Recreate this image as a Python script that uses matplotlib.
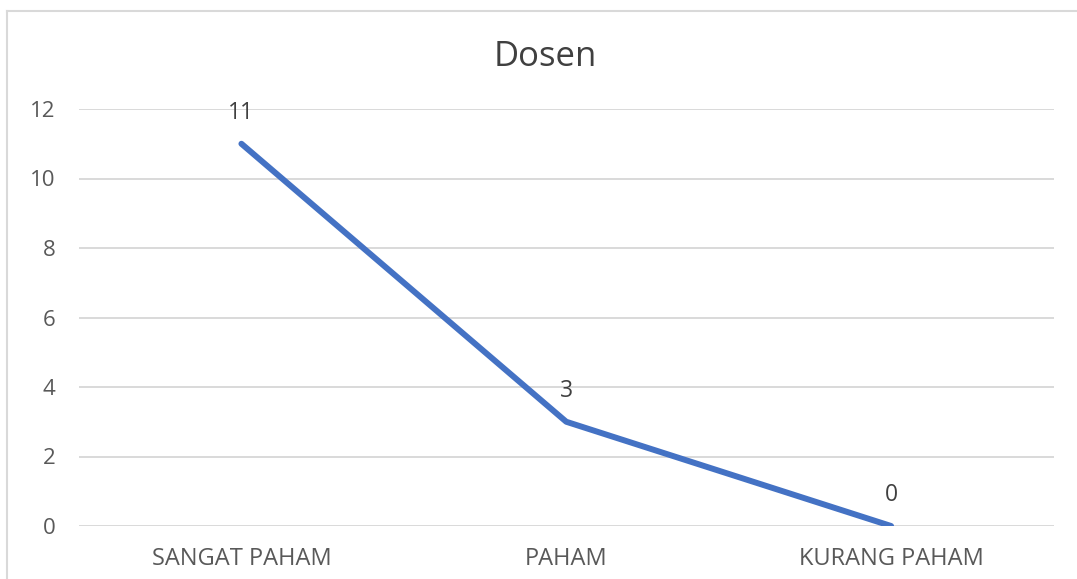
import matplotlib.pyplot as plt
from matplotlib.lines import Line2D

kategori = ["SANGAT PAHAM", "PAHAM", "KURANG PAHAM"]
nilai = [11, 3, 0]
y_ticks = [0, 2, 4, 6, 8, 10, 12]

warna_garis = '#4472C4'
warna_teks = '#595959'
warna_grid = '#d9d9d9'

plt.rcParams['font.family'] = ['Open Sans', 'DejaVu Sans']

fig = plt.figure(figsize=(10.77, 5.79), dpi=100)
ax = fig.add_axes([79 / 1077, 53 / 579, (1053.5 - 79) / 1077, (526 - 109) / 579])

x = list(range(len(kategori)))
ax.plot(x, nilai, color=warna_garis, lw=4.3, solid_capstyle='round', zorder=3)

for xi, v in zip(x, nilai):
    ax.annotate(str(v), (xi, v), xytext=(0, 22), textcoords='offset points',
                ha='center', va='center', fontsize=16.5, color='#404040')

ax.set_xlim(-0.5, len(kategori) - 0.5)
ax.set_ylim(0, 12)
ax.set_yticks(y_ticks)
ax.set_xticks(x)
ax.set_xticklabels(kategori)
ax.tick_params(axis='both', length=0, labelsize=16, labelcolor=warna_teks)
ax.tick_params(axis='x', labelsize=17, pad=15)
ax.tick_params(axis='y', pad=17)
ax.grid(axis='y', color=warna_grid, lw=1.4)
ax.set_axisbelow(True)
for s in ax.spines.values():
    s.set_visible(False)

fig.text(545 / 1077, 1 - 57 / 579, "Dosen", ha='center', va='center',
         fontsize=25, color='#404040')

# bingkai chart (terpotong di kanan dan bawah)
fig.add_artist(Line2D([7 / 1077, 7 / 1077], [0, 1 - 11 / 579], color=warna_grid, lw=1.5))
fig.add_artist(Line2D([7 / 1077, 1], [1 - 11 / 579, 1 - 11 / 579], color=warna_grid, lw=1.5))

fig.savefig('out.png', dpi=100)
